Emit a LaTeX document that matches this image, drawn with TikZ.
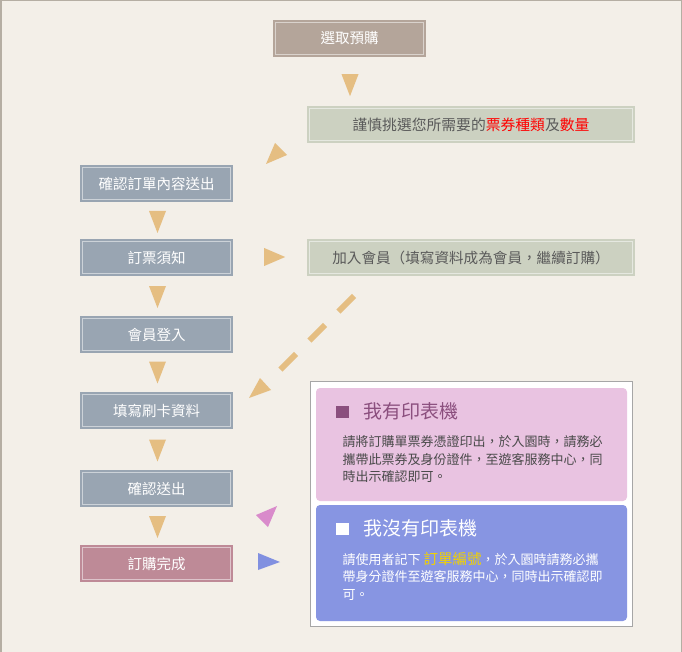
\documentclass[tikz,border=0pt]{standalone}
\usepackage{fontspec}
\setmainfont{Noto Sans CJK TC}
\usetikzlibrary{calc}
\definecolor{bg}{HTML}{F3EFE8}
\definecolor{frameline}{HTML}{B5AEA3}
\definecolor{taupe}{HTML}{B4A59A}
\definecolor{greenbox}{HTML}{CCD1C1}
\definecolor{slate}{HTML}{99A5B2}
\definecolor{rose}{HTML}{BE8A97}
\definecolor{tri}{HTML}{E5BE82}
\definecolor{pinkpanel}{HTML}{E9C3E1}
\definecolor{bluepanel}{HTML}{8795E2}
\definecolor{mauve}{HTML}{8B4F7E}
\definecolor{pinktri}{HTML}{D98BCB}
\definecolor{bluetri}{HTML}{8190E0}
\definecolor{textgray}{HTML}{5A5A5A}
\definecolor{bodygray}{HTML}{4A4A4A}
\definecolor{hilite}{HTML}{F2D200}
\definecolor{brightred}{HTML}{FF0000}
\tikzset{
  innerline/.style={path picture={\draw[white, opacity=0.5, line width=0.7pt]
     ([shift={(2.5pt,2.5pt)}]path picture bounding box.south west) rectangle
     ([shift={(-2.5pt,-2.5pt)}]path picture bounding box.north east);}},
  stepbox/.style={innerline, minimum width=153pt, minimum height=37pt, inner sep=0pt,
     text=white, font=\fontsize{14.5}{16}\selectfont},
  notebox/.style={innerline, fill=greenbox, minimum width=328pt, minimum height=37pt,
     inner sep=0pt, text=textgray, font=\fontsize{14.8}{16}\selectfont},
  panel/.style={rounded corners=4pt, minimum width=311pt, inner sep=0pt},
  paneltitle/.style={anchor=west, inner sep=0pt, font=\fontsize{19}{21}\selectfont},
  panelbody/.style={anchor=west, inner sep=0pt, align=left, font=\fontsize{13}{17.5}\selectfont},
}
\newcommand\downtri[1]{\fill[tri] ($(#1)+(-8.5,-11)$) -- ($(#1)+(8.5,-11)$) -- ($(#1)+(0,11)$) -- cycle;}
\begin{document}
\begin{tikzpicture}[x=1pt,y=-1pt]
\useasboundingbox (0,0) rectangle (682,652);
\fill[bg] (0,0) rectangle (682,652);
\draw[frameline, line width=1.5pt] (0.75,652) -- (0.75,0.75) -- (681.25,0.75) -- (681.25,652);

% top
\node[stepbox, fill=taupe] (select) at (349.5,38.5) {選取預購};
\node[notebox] (careful) at (471,124.5) {謹慎挑選您所需要的\textcolor{brightred}{票券種類}及\textcolor{brightred}{數量}};
\coordinate (t0) at ($(select.south)+(0.5,28)$);
\downtri{t0}

% left column
\node[stepbox, fill=slate] (confirm) at (156.5,183.5) {確認訂單內容送出};
\node[stepbox, fill=slate] (notice)  at (156.5,257.5) {訂票須知};
\node[stepbox, fill=slate] (login)   at (156.5,334.5) {會員登入};
\node[stepbox, fill=slate] (card)    at (156.5,410.5) {填寫刷卡資料};
\node[stepbox, fill=slate] (submit)  at (156.5,488.5) {確認送出};
\node[stepbox, fill=rose]  (done)    at (156.5,563.5) {訂購完成};

\coordinate (t1) at ($($(confirm.south)!0.5!(notice.north)$)+(1,1.5)$);
\coordinate (t2) at ($($(notice.south)!0.5!(login.north)$)+(1,1)$);
\coordinate (t3) at ($($(login.south)!0.5!(card.north)$)+(1,0)$);
\coordinate (t4) at ($($(card.south)!0.5!(submit.north)$)+(1,1)$);
\coordinate (t5) at ($($(submit.south)!0.5!(done.north)$)+(1,1)$);
\downtri{t1}
\downtri{t2}
\downtri{t3}
\downtri{t4}
\downtri{t5}

% back to confirm
\fill[tri] (275,143) -- (287,155) -- (266,164) -- cycle;

% member
\node[notebox, font=\fontsize{14.6}{16}\selectfont] (member) at (471,257.5) {加入會員（填寫資料成為會員，繼續訂購）};
\fill[tri] ($(notice.east)+(31,-9.5)$) -- ($(notice.east)+(52,-0.5)$) -- ($(notice.east)+(31,8.5)$) -- cycle;

% dashed arrow
\coordinate (dstart) at (354,296);
\coordinate (dend) at (279,371);
\draw[tri, line width=6pt, dash pattern=on 22pt off 19pt] (dstart) -- (dend);
\fill[tri] (260,378) -- (271,390) -- (249,398) -- cycle;

% panels
\node[draw=black!35, fill=white, line width=1pt, minimum width=322pt, minimum height=245pt, inner sep=0pt] (frame) at (471.5,504) {};
\node[panel, fill=pinkpanel, minimum height=113pt] (printer) at (471.5,444.5) {};
\node[panel, fill=bluepanel, minimum height=116pt] (noprinter) at (471.5,563) {};

% markers pointing at the panels
\fill[pinktri] (277,506) -- (256,515) -- (268,527) -- cycle;
\fill[bluetri] (258,553) -- (280,562) -- (258,570) -- cycle;

\fill[mauve] (335.5,406) rectangle (348.5,418);
\node[paneltitle, text=mauve] (t-printer) at (363,411.5) {我有印表機};
\node[panelbody, text=bodygray] (b-printer) at (342.5,459.5) {請將訂購單票券憑證印出，於入園時，請務必\\攜帶此票券及身份證件，至遊客服務中心，同\\時出示確認即可。};

\fill[white] (335.5,523) rectangle (348.5,535);
\node[paneltitle, text=white] (t-noprinter) at (363,528.5) {我沒有印表機};
\node[panelbody, text=white] (b-noprinter) at (342.5,576) {請使用者記下 {\fontsize{14.5}{17.5}\selectfont\textcolor{hilite}{訂單編號}}，於入園時請務必攜\\帶身分證件至遊客服務中心，同時出示確認即\\可。};
\end{tikzpicture}
\end{document}
